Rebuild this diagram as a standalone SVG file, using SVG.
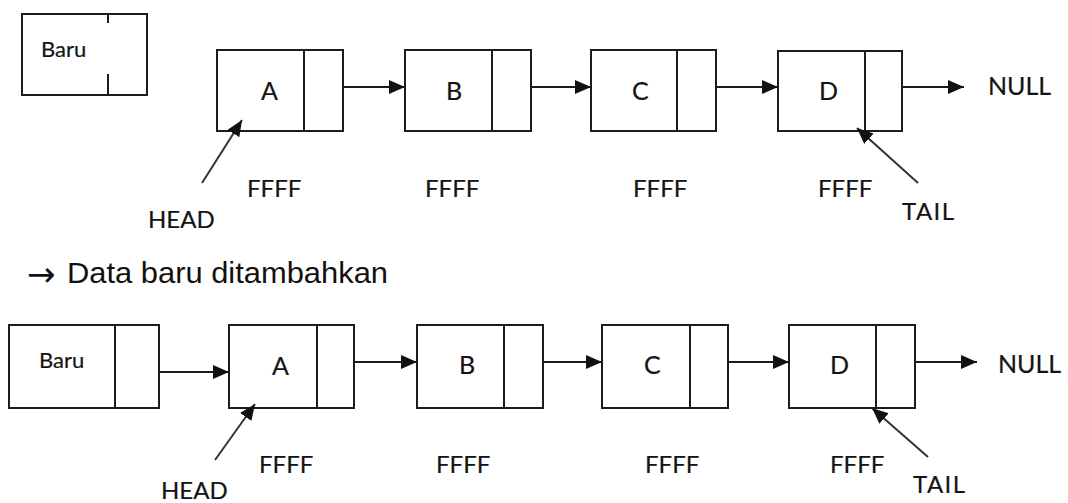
<svg xmlns="http://www.w3.org/2000/svg" width="1068" height="503" viewBox="0 0 1068 503">
  <style>
    .box { fill: #ffffff; stroke: #1c1c1c; stroke-width: 2; }
    .div { stroke: #1c1c1c; stroke-width: 2; }
    .link { stroke: #1c1c1c; stroke-width: 2; fill: none; marker-end: url(#head); }
    .ptr { stroke: #333333; stroke-width: 2; fill: none; marker-end: url(#head); }
    .lbl { font-family: Lato, "Open Sans", sans-serif; fill: #141414; stroke: #141414; stroke-width: 0.2; }
    .val { font-size: 25px; }
    .addr { font-size: 24px; }
    .name { font-size: 22px; }
    .title { font-family: "Liberation Sans", Arial, sans-serif; font-size: 29px; fill: #111111; }
    .sym { font-family: "DejaVu Sans", sans-serif; font-size: 34px; fill: #111111; }
  </style>
  <defs>
    <marker id="head" markerUnits="userSpaceOnUse" markerWidth="18" markerHeight="16" refX="16" refY="7" orient="auto">
      <path d="M0,0 L16,7 L0,14 z" fill="#111111"/>
    </marker>
  </defs>
  <rect width="1068" height="503" fill="#ffffff"/>

  <!-- first list: new node not yet linked -->
  <g id="baru-top">
    <rect class="box" x="22" y="14" width="125" height="81"/>
    <line class="div" x1="108" y1="14" x2="108" y2="23"/>
    <line class="div" x1="108" y1="74" x2="108" y2="95"/>
    <text class="lbl name" x="41" y="57">Baru</text>
  </g>
  <g id="a-top">
    <rect class="box" x="217" y="50" width="126" height="81"/>
    <line class="div" x1="304" y1="50" x2="304" y2="131"/>
    <text class="lbl val" x="261" y="100">A</text>
    <text class="lbl addr" x="247" y="197">FFFF</text>
  </g>
  <g id="b-top">
    <rect class="box" x="405" y="50" width="126" height="81"/>
    <line class="div" x1="492" y1="50" x2="492" y2="131"/>
    <text class="lbl val" x="446" y="100">B</text>
    <text class="lbl addr" x="425" y="197">FFFF</text>
  </g>
  <g id="c-top">
    <rect class="box" x="591" y="50" width="125" height="81"/>
    <line class="div" x1="677" y1="50" x2="677" y2="131"/>
    <text class="lbl val" x="632" y="100">C</text>
    <text class="lbl addr" x="633" y="197">FFFF</text>
  </g>
  <g id="d-top">
    <rect class="box" x="778" y="51" width="124" height="80"/>
    <line class="div" x1="865" y1="51" x2="865" y2="131"/>
    <text class="lbl val" x="819" y="100">D</text>
    <text class="lbl addr" x="818" y="197">FFFF</text>
  </g>
  <g id="null-top">
    <text class="lbl val" x="988" y="95">NULL</text>
  </g>
  <g id="head-top">
    <text class="lbl addr" x="148" y="228">HEAD</text>
  </g>
  <g id="tail-top">
    <text class="lbl addr" x="902" y="220" textLength="52">TAIL</text>
  </g>

  <g id="title">
    <text class="sym" x="27" y="286">→</text>
    <text class="title" x="67" y="283" textLength="321" lengthAdjust="spacingAndGlyphs">Data baru ditambahkan</text>
  </g>

  <!-- second list: new node placed in front of A -->
  <g id="baru-bottom">
    <rect class="box" x="9" y="325" width="150" height="83"/>
    <line class="div" x1="115" y1="325" x2="115" y2="408"/>
    <text class="lbl name" x="39" y="368">Baru</text>
  </g>
  <g id="a-bottom">
    <rect class="box" x="229" y="325" width="125" height="83"/>
    <line class="div" x1="317" y1="325" x2="317" y2="408"/>
    <text class="lbl val" x="272" y="375">A</text>
    <text class="lbl addr" x="259" y="473">FFFF</text>
  </g>
  <g id="b-bottom">
    <rect class="box" x="417" y="325" width="126" height="83"/>
    <line class="div" x1="504" y1="325" x2="504" y2="408"/>
    <text class="lbl val" x="459" y="374">B</text>
    <text class="lbl addr" x="436" y="473">FFFF</text>
  </g>
  <g id="c-bottom">
    <rect class="box" x="602" y="325" width="126" height="83"/>
    <line class="div" x1="690" y1="325" x2="690" y2="408" stroke-width="3.5"/>
    <text class="lbl val" x="644" y="374">C</text>
    <text class="lbl addr" x="645" y="473">FFFF</text>
  </g>
  <g id="d-bottom">
    <rect class="box" x="789" y="325" width="126" height="83"/>
    <line class="div" x1="876" y1="325" x2="876" y2="408"/>
    <text class="lbl val" x="830" y="374">D</text>
    <text class="lbl addr" x="830" y="473">FFFF</text>
  </g>
  <g id="null-bottom">
    <text class="lbl val" x="998" y="373">NULL</text>
  </g>
  <g id="head-bottom">
    <text class="lbl addr" x="161" y="499">HEAD</text>
  </g>
  <g id="tail-bottom">
    <text class="lbl addr" x="913" y="493" textLength="52">TAIL</text>
  </g>

  <g id="connectors">
    <line class="link" x1="343" y1="87" x2="405" y2="87"/>
    <line class="link" x1="531" y1="87" x2="591" y2="87"/>
    <line class="link" x1="716" y1="87" x2="778" y2="87"/>
    <line class="link" x1="902" y1="87" x2="964" y2="87"/>
    <line class="ptr" x1="202" y1="183" x2="242" y2="120"/>
    <line class="ptr" x1="918" y1="183" x2="857" y2="128"/>

    <line class="link" x1="159" y1="372" x2="229" y2="372"/>
    <line class="link" x1="354" y1="362" x2="417" y2="362"/>
    <line class="link" x1="543" y1="362" x2="602" y2="362"/>
    <line class="link" x1="728" y1="362" x2="789" y2="362"/>
    <line class="link" x1="915" y1="362" x2="977" y2="362"/>
    <line class="ptr" x1="215" y1="460" x2="255" y2="404"/>
    <line class="ptr" x1="928" y1="457" x2="872" y2="408"/>
  </g>
</svg>
